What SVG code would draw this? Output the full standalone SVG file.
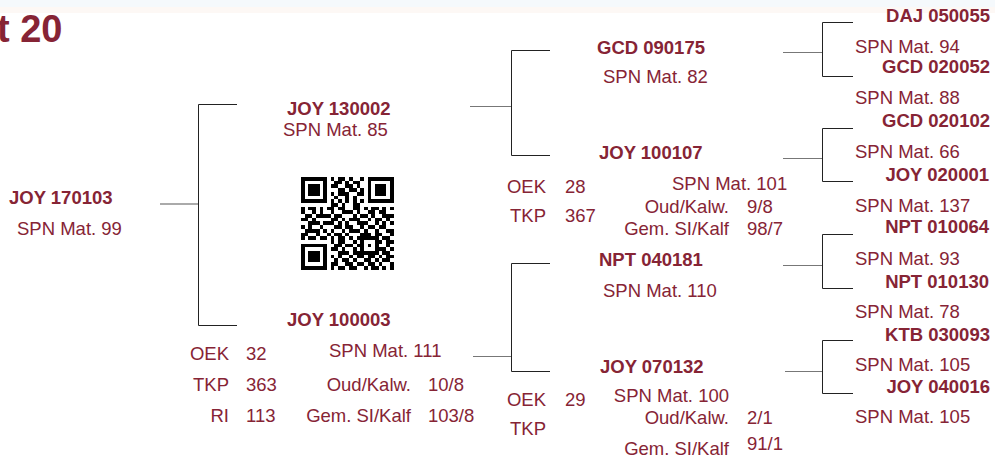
<svg xmlns="http://www.w3.org/2000/svg" width="995" height="459" viewBox="0 0 995 459">
<style>
text{font-family:"Liberation Sans",Arial,Helvetica,sans-serif;font-size:18.5px;fill:#862435}
.b{font-weight:bold}
.e{text-anchor:end}
.v{fill:none;stroke:#222;stroke-width:1}
.h{fill:none;stroke:#777;stroke-width:1.2}
</style>
<rect x="0" y="0" width="995" height="7" fill="#f5f9fc"/>
<rect x="0" y="7" width="995" height="6" fill="#fdf8f5"/>
<text x="-3" y="42" class="b" style="font-size:38px">t 20</text>

<g id="connectors">
<path class="h" d="M160 204H198" style="stroke:#aaa;stroke-width:2"/>
<path class="v" d="M237 104.5H198.5V325.5H237"/>
<path class="h" d="M470 106.5H511"/>
<path class="v" d="M550 50.5H511.5V155.5H550"/>
<path class="h" d="M473 356.5H511"/>
<path class="v" d="M550 263.5H511.5V371.5H550"/>
<path class="h" d="M783 52.5H822"/>
<path class="v" d="M853 22.5H822.5V76.5H853"/>
<path class="h" d="M783 158.5H822"/>
<path class="v" d="M853 128.5H822.5V181.5H853"/>
<path class="h" d="M783 265.5H822"/>
<path class="v" d="M853 234.5H822.5V288.5H853"/>
<path class="h" d="M785 371.5H822"/>
<path class="v" d="M853 340.5H822.5V393.5H853"/>
</g>

<g id="n-joy170103">
<text x="9" y="204" class="b">JOY 170103</text>
<text x="17" y="235">SPN Mat. 99</text>
</g>

<g id="n-joy130002">
<text x="287" y="115" class="b">JOY 130002</text>
<text x="283" y="136">SPN Mat. 85</text>
</g>

<g id="qr" transform="translate(301,177) scale(3.7)" shape-rendering="crispEdges">
<path fill="#000" d="M0 0h7v1h-7zM8 0h1v1h-1zM10 0h2v1h-2zM13 0h1v1h-1zM16 0h1v1h-1zM18 0h7v1h-7z
M0 1h1v1h-1zM6 1h1v1h-1zM9 1h2v1h-2zM12 1h1v1h-1zM14 1h2v1h-2zM18 1h1v1h-1zM24 1h1v1h-1z
M0 2h1v1h-1zM2 2h3v1h-3zM6 2h1v1h-1zM8 2h2v1h-2zM12 2h2v1h-2zM15 2h1v1h-1zM18 2h1v1h-1zM20 2h3v1h-3zM24 2h1v1h-1z
M0 3h1v1h-1zM2 3h3v1h-3zM6 3h1v1h-1zM10 3h2v1h-2zM13 3h2v1h-2zM16 3h1v1h-1zM18 3h1v1h-1zM20 3h3v1h-3zM24 3h1v1h-1z
M0 4h1v1h-1zM2 4h3v1h-3zM6 4h1v1h-1zM8 4h1v1h-1zM10 4h3v1h-3zM15 4h2v1h-2zM18 4h1v1h-1zM20 4h3v1h-3zM24 4h1v1h-1z
M0 5h1v1h-1zM6 5h1v1h-1zM9 5h1v1h-1zM12 5h1v1h-1zM14 5h1v1h-1zM18 5h1v1h-1zM24 5h1v1h-1z
M0 6h7v1h-7zM8 6h1v1h-1zM10 6h1v1h-1zM12 6h1v1h-1zM14 6h1v1h-1zM16 6h1v1h-1zM18 6h7v1h-7z
M8 7h2v1h-2zM11 7h1v1h-1zM14 7h2v1h-2z
M0 8h1v1h-1zM2 8h2v1h-2zM5 8h1v1h-1zM7 8h2v1h-2zM10 8h2v1h-2zM14 8h2v1h-2zM17 8h1v1h-1zM19 8h2v1h-2zM22 8h1v1h-1zM24 8h1v1h-1z
M0 9h1v1h-1zM3 9h1v1h-1zM5 9h1v1h-1zM8 9h1v1h-1zM11 9h3v1h-3zM15 9h1v1h-1zM18 9h2v1h-2zM21 9h2v1h-2z
M1 10h2v1h-2zM4 10h4v1h-4zM9 10h2v1h-2zM14 10h1v1h-1zM16 10h2v1h-2zM19 10h1v1h-1zM22 10h3v1h-3z
M0 11h2v1h-2zM3 11h1v1h-1zM8 11h2v1h-2zM11 11h1v1h-1zM13 11h3v1h-3zM18 11h1v1h-1zM20 11h2v1h-2zM23 11h1v1h-1z
M2 12h3v1h-3zM6 12h3v1h-3zM10 12h1v1h-1zM12 12h1v1h-1zM15 12h3v1h-3zM20 12h1v1h-1zM22 12h1v1h-1zM24 12h1v1h-1z
M0 13h1v1h-1zM2 13h1v1h-1zM5 13h1v1h-1zM9 13h2v1h-2zM12 13h2v1h-2zM16 13h1v1h-1zM18 13h2v1h-2zM21 13h2v1h-2z
M1 14h4v1h-4zM6 14h1v1h-1zM8 14h1v1h-1zM11 14h1v1h-1zM13 14h3v1h-3zM17 14h1v1h-1zM20 14h1v1h-1zM23 14h2v1h-2z
M0 15h2v1h-2zM4 15h1v1h-1zM7 15h1v1h-1zM9 15h2v1h-2zM12 15h1v1h-1zM16 15h3v1h-3zM20 15h2v1h-2zM24 15h1v1h-1z
M0 16h1v1h-1zM2 16h2v1h-2zM5 16h2v1h-2zM8 16h1v1h-1zM10 16h2v1h-2zM13 16h1v1h-1zM15 16h6v1h-6zM22 16h2v1h-2z
M8 17h1v1h-1zM10 17h2v1h-2zM14 17h1v1h-1zM16 17h1v1h-1zM20 17h2v1h-2zM23 17h2v1h-2z
M0 18h7v1h-7zM9 18h2v1h-2zM12 18h2v1h-2zM15 18h2v1h-2zM18 18h1v1h-1zM20 18h1v1h-1zM23 18h1v1h-1z
M0 19h1v1h-1zM6 19h1v1h-1zM8 19h2v1h-2zM11 19h1v1h-1zM14 19h1v1h-1zM16 19h1v1h-1zM20 19h3v1h-3zM24 19h1v1h-1z
M0 20h1v1h-1zM2 20h3v1h-3zM6 20h1v1h-1zM10 20h3v1h-3zM14 20h7v1h-7zM22 20h2v1h-2z
M0 21h1v1h-1zM2 21h3v1h-3zM6 21h1v1h-1zM8 21h1v1h-1zM10 21h1v1h-1zM13 21h1v1h-1zM15 21h2v1h-2zM18 21h2v1h-2zM21 21h1v1h-1zM23 21h2v1h-2z
M0 22h1v1h-1zM2 22h3v1h-3zM6 22h1v1h-1zM9 22h1v1h-1zM11 22h2v1h-2zM14 22h1v1h-1zM17 22h2v1h-2zM20 22h1v1h-1zM22 22h2v1h-2z
M0 23h1v1h-1zM6 23h1v1h-1zM8 23h2v1h-2zM12 23h2v1h-2zM15 23h2v1h-2zM18 23h2v1h-2zM21 23h1v1h-1zM24 23h1v1h-1z
M0 24h7v1h-7zM8 24h1v1h-1zM10 24h2v1h-2zM13 24h2v1h-2zM17 24h1v1h-1zM19 24h2v1h-2zM22 24h1v1h-1zM24 24h1v1h-1z"/>
</g>

<g id="n-joy100003">
<text x="287" y="326" class="b">JOY 100003</text>
<text x="229" y="360" class="e">OEK</text><text x="246" y="360">32</text>
<text x="229" y="391" class="e">TKP</text><text x="246" y="391">363</text>
<text x="229" y="422" class="e">RI</text><text x="246" y="422">113</text>
<text x="329" y="357">SPN Mat. 111</text>
<text x="411" y="391" class="e">Oud/Kalw.</text><text x="428" y="391">10/8</text>
<text x="411" y="422" class="e">Gem. SI/Kalf</text><text x="428" y="422">103/8</text>
</g>

<g id="n-gcd090175">
<text x="597" y="54" class="b">GCD 090175</text>
<text x="603" y="83">SPN Mat. 82</text>
</g>

<g id="n-joy100107">
<text x="599" y="159" class="b">JOY 100107</text>
<text x="546" y="193" class="e">OEK</text><text x="565" y="193">28</text>
<text x="546" y="222" class="e">TKP</text><text x="565" y="222">367</text>
<text x="672" y="190">SPN Mat. 101</text>
<text x="729" y="213" class="e">Oud/Kalw.</text><text x="747" y="213">9/8</text>
<text x="729" y="235" class="e">Gem. SI/Kalf</text><text x="747" y="235">98/7</text>
</g>

<g id="n-npt040181">
<text x="599" y="266" class="b">NPT 040181</text>
<text x="603" y="297">SPN Mat. 110</text>
</g>

<g id="n-joy070132">
<text x="600" y="373" class="b">JOY 070132</text>
<text x="546" y="406" class="e">OEK</text><text x="565" y="406">29</text>
<text x="546" y="435" class="e">TKP</text>
<text x="729" y="402" class="e">SPN Mat. 100</text>
<text x="729" y="424" class="e">Oud/Kalw.</text><text x="747" y="424">2/1</text>
<text x="729" y="455" class="e">Gem. SI/Kalf</text><text x="747" y="450">91/1</text>
</g>

<g id="n-daj050055"><text x="990" y="22" class="b e">DAJ 050055</text><text x="855" y="53">SPN Mat. 94</text></g>
<g id="n-gcd020052"><text x="990" y="73" class="b e">GCD 020052</text><text x="855" y="104">SPN Mat. 88</text></g>
<g id="n-gcd020102"><text x="990" y="127" class="b e">GCD 020102</text><text x="855" y="158">SPN Mat. 66</text></g>
<g id="n-joy020001"><text x="989" y="181" class="b e">JOY 020001</text><text x="855" y="212">SPN Mat. 137</text></g>
<g id="n-npt010064"><text x="989" y="233" class="b e">NPT 010064</text><text x="855" y="265">SPN Mat. 93</text></g>
<g id="n-npt010130"><text x="989" y="288" class="b e">NPT 010130</text><text x="855" y="318">SPN Mat. 78</text></g>
<g id="n-ktb030093"><text x="990" y="341" class="b e">KTB 030093</text><text x="855" y="371">SPN Mat. 105</text></g>
<g id="n-joy040016"><text x="990" y="393" class="b e">JOY 040016</text><text x="855" y="423">SPN Mat. 105</text></g>
</svg>
